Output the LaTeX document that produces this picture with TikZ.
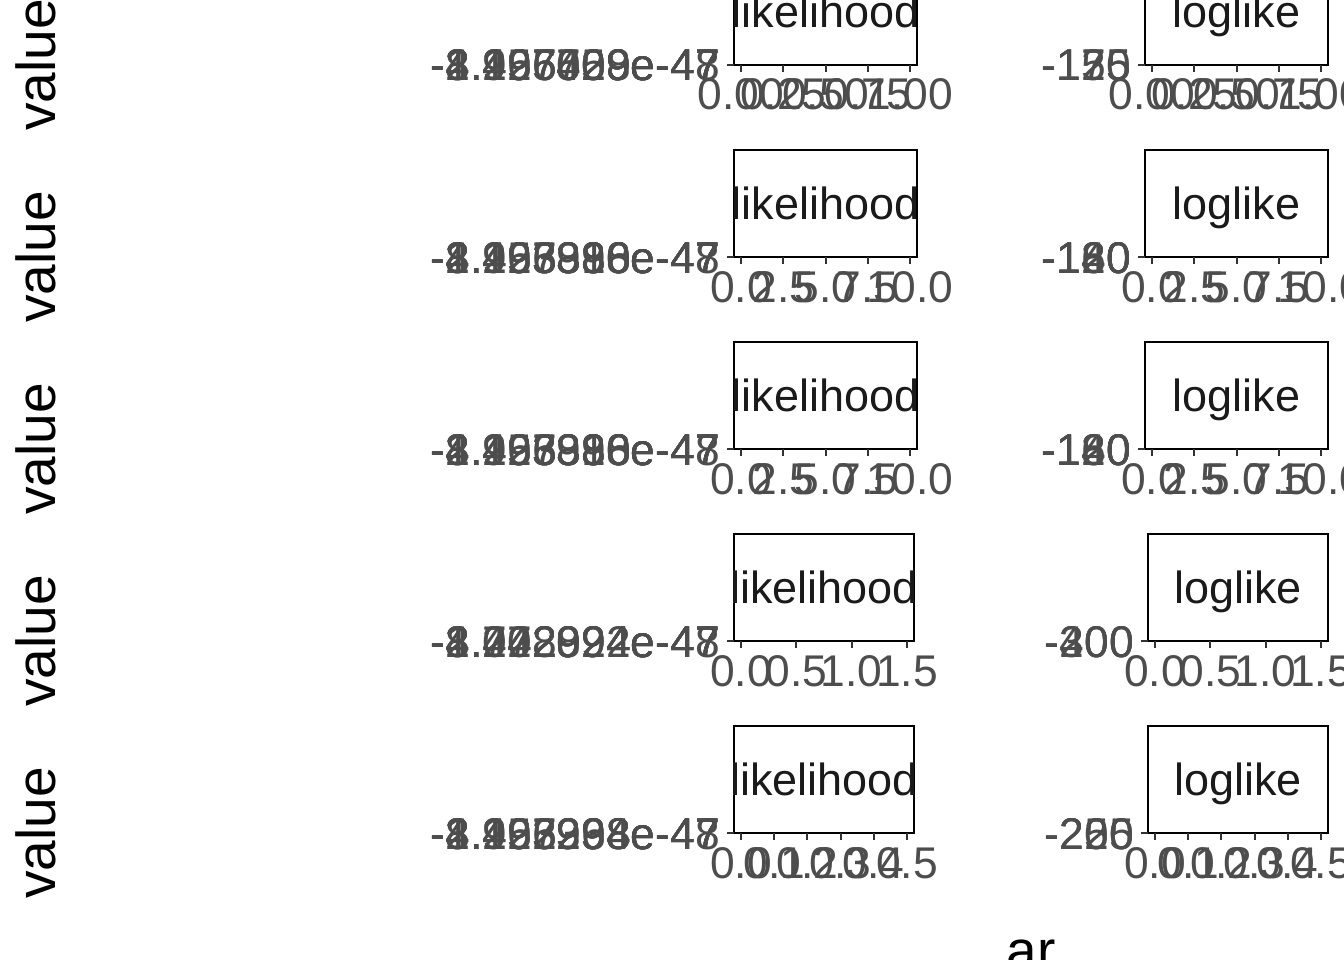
\documentclass[tikz,border=0pt]{standalone}
\usepackage{fontspec}
\setmainfont{Liberation Sans}
\definecolor{tickgray}{HTML}{4D4D4D}
\definecolor{tickline}{HTML}{333333}
\definecolor{striptext}{HTML}{1A1A1A}
\newcommand\tickfnt{\fontsize{44.4}{50}\selectfont}
\newcommand\stripfnt{\fontsize{45}{50}\selectfont}
\newcommand\titlefnt{\fontsize{55}{62}\selectfont}
\tikzset{
  xlab/.style={text=tickgray, font=\tickfnt, inner sep=0pt, anchor=base},
  ylab/.style={text=tickgray, font=\tickfnt, inner sep=0pt, anchor=base east},
  stripbox/.style={draw=black, line width=2pt},
  striplab/.style={text=striptext, font=\stripfnt, inner sep=0pt, anchor=base},
  axisline/.style={draw=black, line width=2.8pt},
  tickmark/.style={draw=tickline, line width=2pt},
  axtitle/.style={text=black, font=\titlefnt, inner sep=0pt, anchor=base},
}
% #1 row name, #2 bottom y, #3 left x, #4 right x, #5 strip label, #6 tick positions/labels, #7 y labels
\newcommand\panelrow[7]{%
  \draw[stripbox] (#3,#2-107) rectangle (#4,#2);
  \node[striplab] (#1s) at ({(#3+#4)/2},#2-53.5+16) {#5};
  \draw[axisline] (#3,#2) -- (#4,#2);
  \draw[tickmark] (#3-7,#2) -- (#3,#2);
  \foreach \yl [count=\k] in {#7} {\node[ylab] (#1y\k) at (#3-14,#2+16) {\yl};}
  \foreach \xp/\xl [count=\k] in {#6} {
    \draw[tickmark] (\xp,#2) -- (\xp,#2+7);
    \node[xlab] (#1x\k) at (\xp,#2+45) {\xl};
  }%
}
\begin{document}
\begin{tikzpicture}[x=1pt,y=-1pt]
\useasboundingbox (0,0) rectangle (1344,960);
\clip (0,0) rectangle (1344,960);
\fill[white] (0,0) rectangle (1344,960);
% y titles
\foreach \yb [count=\k] in {65,257,449,641,833} {
  \node[axtitle, rotate=90] (val\k) at (55,\yb) {value};
}
% row 1
\panelrow{aL}{65}{734}{917}{likelihood}{741/0.00,783.25/0.25,825.5/0.50,867.75/0.75,910/1.00}{-8.425609e-48,-1.956728e-47,-2.497059e-47,-3.167429e-47,-4.296509e-47}
\panelrow{aR}{65}{1145}{1328}{loglike}{1152/0.00,1194.25/0.25,1236.5/0.50,1278.75/0.75,1321/1.00}{-125,-150,-175}
% row 2
\panelrow{bL}{257}{734}{917}{likelihood}{741/0.0,783.25/2.5,825.5/5.0,867.75/7.5,910/10.0}{-8.425386e-48,-1.956318e-47,-2.497390e-47,-3.163986e-47,-4.293880e-47}
\panelrow{bR}{257}{1145}{1328}{loglike}{1152/0.0,1194.25/2.5,1236.5/5.0,1278.75/7.5,1321/10.0}{-120,-140,-160,-180}
% row 3
\panelrow{cL}{449}{734}{917}{likelihood}{741/0.0,783.25/2.5,825.5/5.0,867.75/7.5,910/10.0}{-8.425386e-48,-1.956318e-47,-2.497390e-47,-3.163986e-47,-4.293880e-47}
\panelrow{cR}{449}{1145}{1328}{loglike}{1152/0.0,1194.25/2.5,1236.5/5.0,1278.75/7.5,1321/10.0}{-120,-140,-160,-180}
% row 4
\panelrow{dL}{641}{734}{914}{likelihood}{741/0.0,796.33/0.5,851.67/1.0,907/1.5}{-8.402924e-48,-1.748994e-47,-2.072892e-47,-3.242924e-47,-4.222094e-47}
\panelrow{dR}{641}{1148}{1328}{loglike}{1155/0.0,1210.33/0.5,1265.67/1.0,1321/1.5}{-200,-300,-400}
% row 5
\panelrow{eL}{833}{734}{914}{likelihood}{741/0.0,774.2/0.1,807.4/0.2,840.6/0.3,873.8/0.4,907/0.5}{-8.425394e-48,-1.956298e-47,-2.497238e-47,-3.162994e-47,-4.293968e-47}
\panelrow{eR}{833}{1148}{1328}{loglike}{1155/0.0,1188.2/0.1,1221.4/0.2,1254.6/0.3,1287.8/0.4,1321/0.5}{-200,-225,-250}
% x title (cut off)
\node[axtitle] (xt) at (1031,969) {ar};
\end{tikzpicture}
\end{document}
